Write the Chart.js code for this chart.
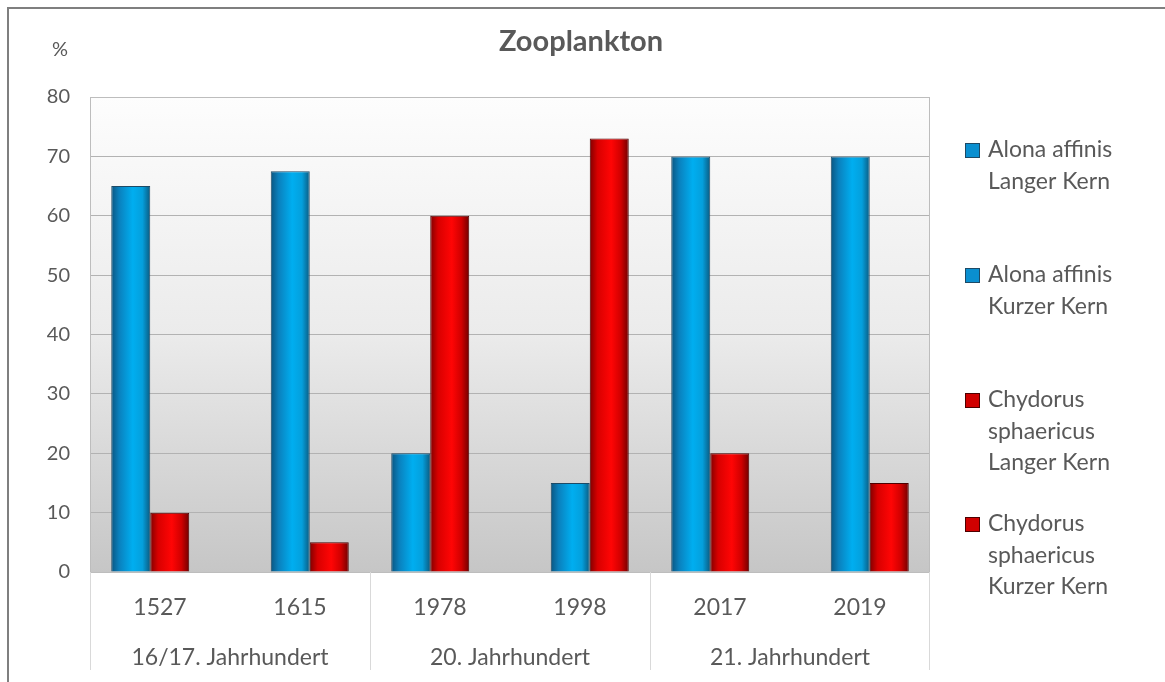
<!DOCTYPE html>
<html>
<head>
<meta charset="utf-8">
<title>Zooplankton</title>
<script src="https://cdn.jsdelivr.net/npm/chart.js@4.4.0/dist/chart.umd.min.js"></script>
<style>
  html, body { margin: 0; padding: 0; background: #fff; }
</style>
</head>
<body>
<canvas id="zooChart" width="1165" height="682"></canvas>
<script>
// Data
const years = ["1527", "1615", "1978", "1998", "2017", "2019"];
const centuries = ["16/17. Jahrhundert", "20. Jahrhundert", "21. Jahrhundert"];
const yTicks = [0, 10, 20, 30, 40, 50, 60, 70, 80];

const alonaLang = [65, null, 20, null, 70, null];
const alonaKurz = [null, 67.5, null, 15, null, 70];
const chydLang = [10, null, 60, null, 20, null];
const chydKurz = [null, 5, null, 73, null, 15];

const legendLines = [
  ["Alona affinis", "Langer Kern"],
  ["Alona affinis", "Kurzer Kern"],
  ["Chydorus", "sphaericus", "Langer Kern"],
  ["Chydorus", "sphaericus", "Kurzer Kern"]
];

const textColor = "#595959";
const fontFamily = "Lato, 'Open Sans', sans-serif";
const CAT_PCT = 78 / 140; // 4 slots of 19.5px in a 140px category
const BAR_PCT = 2;        // bars overlap their neighbour slot (Excel overlap 50%)

// cylinder-ish shading, like the original office chart
const blueStops = ["#0a5580", "#0a80bd", "#00aef0", "#049fdc", "#0b5a80"];
const redStops = ["#800000", "#d80000", "#ff0505", "#d00000", "#700000"];

function barShade(stops) {
  return (c) => {
    const chart = c.chart;
    const xs = chart.scales && chart.scales.x;
    if (!xs || c.dataIndex === undefined) return stops[2];
    const chunk = (xs.width / years.length) * CAT_PCT / 4;
    const cx = xs.getPixelForValue(c.dataIndex) + (c.datasetIndex - 1.5) * chunk;
    const w = chunk * BAR_PCT;
    if (!isFinite(cx) || !isFinite(w) || w <= 0) return stops[2];
    const g = chart.ctx.createLinearGradient(cx - w / 2, 0, cx + w / 2, 0);
    g.addColorStop(0, stops[0]);
    g.addColorStop(0.2, stops[1]);
    g.addColorStop(0.55, stops[2]);
    g.addColorStop(0.8, stops[3]);
    g.addColorStop(1, stops[4]);
    return g;
  };
}

// background, frame and plot area fill
const backdrop = {
  id: "backdrop",
  beforeDraw(chart) {
    const { ctx, chartArea: a } = chart;
    ctx.save();
    ctx.fillStyle = "#fff";
    ctx.fillRect(0, 0, chart.width, chart.height);
    const g = ctx.createLinearGradient(0, a.top, 0, a.bottom);
    g.addColorStop(0, "#fdfdfd");
    g.addColorStop(0.5, "#ebebeb");
    g.addColorStop(1, "#c6c6c6");
    ctx.fillStyle = g;
    ctx.fillRect(a.left, a.top, a.right - a.left, a.bottom - a.top);
    // outer frame (top and left only visible)
    ctx.strokeStyle = "#7f7f7f";
    ctx.lineWidth = 2;
    ctx.beginPath();
    ctx.moveTo(8, chart.height);
    ctx.lineTo(8, 8);
    ctx.lineTo(chart.width, 8);
    ctx.stroke();
    ctx.restore();
  }
};

// title, unit, century groups and legend
const decorations = {
  id: "decorations",
  afterDraw(chart) {
    const { ctx, chartArea: a } = chart;
    const xs = chart.scales.x;
    ctx.save();

    // plot border
    ctx.strokeStyle = "#bdbdbd";
    ctx.lineWidth = 1;
    ctx.strokeRect(a.left + 0.5, a.top + 0.5, a.right - a.left - 1, a.bottom - a.top);

    ctx.fillStyle = textColor;
    ctx.textBaseline = "middle";
    ctx.textAlign = "center";
    ctx.font = "bold 29px " + fontFamily;
    ctx.fillText("Zooplankton", 581, 42);
    ctx.font = "20px " + fontFamily;
    ctx.fillText("%", 60, 50);

    // century groups
    const catW = xs.width / years.length;
    ctx.font = "23px " + fontFamily;
    ctx.strokeStyle = "#d9d9d9";
    ctx.lineWidth = 1;
    centuries.forEach((name, i) => {
      const x0 = xs.getPixelForValue(i * 2) - catW / 2;
      const x1 = xs.getPixelForValue(i * 2 + 1) + catW / 2;
      ctx.fillText(name, (x0 + x1) / 2, 658);
      ctx.beginPath();
      ctx.moveTo(Math.round(x0) + 0.5, a.bottom);
      ctx.lineTo(Math.round(x0) + 0.5, 670);
      ctx.stroke();
      if (i === centuries.length - 1) {
        ctx.beginPath();
        ctx.moveTo(Math.round(x1) - 0.5, a.bottom);
        ctx.lineTo(Math.round(x1) - 0.5, 670);
        ctx.stroke();
      }
    });

    // legend
    const itemTops = [150, 275, 400, 524];
    ctx.textAlign = "left";
    ctx.font = "23px " + fontFamily;
    chart.data.datasets.forEach((ds, i) => {
      const y = itemTops[i];
      ctx.fillStyle = ds.legendColor;
      ctx.fillRect(965, y - 7, 15, 15);
      ctx.strokeStyle = ds.borderColor;
      ctx.strokeRect(965.5, y - 6.5, 14, 14);
      ctx.fillStyle = textColor;
      legendLines[i].forEach((line, j) => {
        ctx.fillText(line, 988, y + j * 31.5);
      });
    });
    ctx.restore();
  }
};

const ctx = document.getElementById("zooChart").getContext("2d");

const chart = new Chart(ctx, {
  type: "bar",
  data: {
    labels: years,
    datasets: [
      { label: legendLines[0].join(" "), data: alonaLang, backgroundColor: barShade(blueStops), borderColor: "#1d4a66", legendColor: "#0a8fd0" },
      { label: legendLines[1].join(" "), data: alonaKurz, backgroundColor: barShade(blueStops), borderColor: "#1d4a66", legendColor: "#0a8fd0" },
      { label: legendLines[2].join(" "), data: chydLang, backgroundColor: barShade(redStops), borderColor: "#4d0000", legendColor: "#d00000" },
      { label: legendLines[3].join(" "), data: chydKurz, backgroundColor: barShade(redStops), borderColor: "#4d0000", legendColor: "#d00000" }
    ]
  },
  options: {
    responsive: false,
    animation: false,
    layout: { padding: { top: 97, right: 235, bottom: 0, left: 0 } },
    datasets: {
      bar: { categoryPercentage: CAT_PCT, barPercentage: BAR_PCT, borderWidth: 1 }
    },
    scales: {
      x: {
        grid: { display: false },
        border: { display: false },
        ticks: {
          color: textColor,
          font: { family: fontFamily, size: 23 },
          padding: 14,
          maxRotation: 0,
          autoSkip: false
        },
        afterFit: (scale) => { scale.height = 110; }
      },
      y: {
        min: 0,
        max: 80,
        afterBuildTicks: (scale) => { scale.ticks = yTicks.map(v => ({ value: v })); },
        grid: { color: "#b2b2b2", drawTicks: false },
        border: { display: false },
        ticks: {
          color: textColor,
          font: { family: fontFamily, size: 20 },
          padding: 20
        },
        afterFit: (scale) => { scale.width = 90; }
      }
    },
    plugins: {
      legend: { display: false },
      title: { display: false },
      tooltip: { enabled: false }
    }
  },
  plugins: [backdrop, decorations]
});
</script>
</body>
</html>
